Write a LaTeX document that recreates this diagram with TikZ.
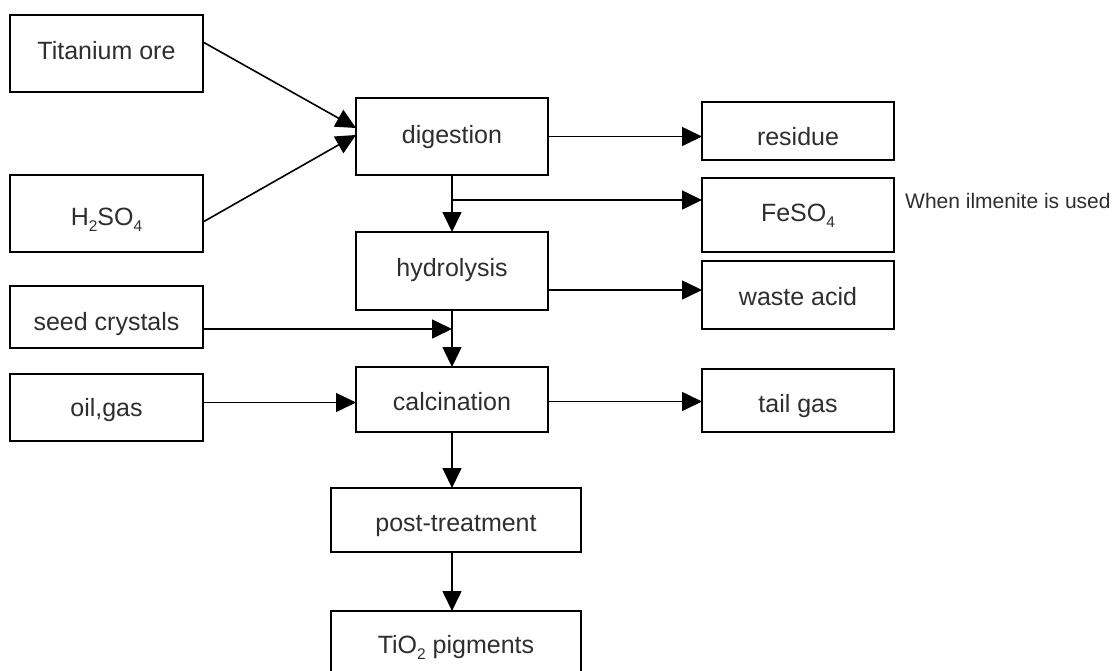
\documentclass[tikz,border=0pt]{standalone}
\usepackage{fontspec}
\setmainfont{Liberation Sans}
\usetikzlibrary{arrows.meta,calc}
\newcommand\lowsub[1]{\raisebox{-0.45ex}{\fontsize{15.5}{15.5}\selectfont #1}}
\newcommand\bl[2]{\raisebox{-#1pt}[0pt][0pt]{#2}}
\begin{document}
\begin{tikzpicture}[x=1pt,y=-1pt,
  box/.style={draw, line width=1.8pt, inner sep=0pt, outer sep=0pt, text=black!82, font=\fontsize{25}{29}\selectfont},
  wbox/.style={box, minimum width=193pt},
  arr/.style={line width=1.6pt, -{Triangle[length=20pt,width=19pt]}},
  note/.style={text=black!82, font=\fontsize{21}{24}\selectfont, inner sep=0pt, anchor=base west}]
\useasboundingbox (0,0) rectangle (1114,670);
% left column
\node[wbox, minimum height=77pt] (ti) at (106.5,53.5) {\bl{5.5}{Titanium ore}};
\node[wbox, minimum height=77pt] (hs) at (106.5,213.5) {\bl{12}{H\lowsub{2}SO\lowsub{4}}};
\node[wbox, minimum height=62pt] (seed) at (106.5,317) {\bl{13}{seed crystals}};
\node[wbox, minimum height=67pt] (oil) at (106.5,407.5) {\bl{9}{oil,gas}};
% middle column
\node[box, minimum width=192pt, minimum height=77pt] (dig) at (452,136.5) {\bl{7}{digestion}};
\node[box, minimum width=192pt, minimum height=78pt] (hy) at (452,271) {\bl{5.7}{hydrolysis}};
\node[box, minimum width=192pt, minimum height=65pt] (cal) at (452,399.5) {\bl{11}{calcination}};
\node[box, minimum width=250pt, minimum height=64pt] (po) at (456,520) {\bl{11.7}{post-treatment}};
\node[box, minimum width=250pt, minimum height=69pt] (tio) at (456,645.5) {\bl{7.8}{TiO\lowsub{2} pigments}};
% right column
\node[box, minimum width=192pt, minimum height=58pt] (re) at (798,131) {\bl{14}{residue}};
\node[box, minimum width=192pt, minimum height=74pt] (fe) at (798,215) {\bl{6.7}{FeSO\lowsub{4}}};
\node[box, minimum width=192pt, minimum height=68pt] (wa) at (798,295) {\bl{10}{waste acid}};
\node[box, minimum width=192pt, minimum height=63pt] (tg) at (798,400.5) {\bl{12}{tail gas}};
\node[note] (nt) at (905,208.3) {When ilmenite is used};
% connectors
\draw[arr] ([yshift=11.5pt]ti.east) -- ([yshift=8.5pt]dig.west);
\draw[arr] ([yshift=-8.5pt]hs.east) -- ([yshift=1.5pt]dig.west);
\draw[arr] (dig.east) -- (dig.east -| re.west);
\draw[arr] (dig.south) -- (hy.north);
\coordinate (feIn) at ([yshift=15pt]fe.west);
\draw[arr] (dig.south |- feIn) -- (feIn);
\coordinate (waIn) at ([yshift=5pt]wa.west);
\draw[arr] (hy.east |- waIn) -- (waIn);
\coordinate (seedOut) at ([yshift=-12pt]seed.east);
\draw[arr] (seedOut) -- (seedOut -| hy.south);
\draw[arr] (hy.south) -- (cal.north);
\coordinate (calIn) at ([yshift=-3pt]cal.west);
\draw[arr] (calIn -| oil.east) -- (calIn);
\coordinate (calOut) at ([yshift=-2pt]cal.east);
\draw[arr] (calOut) -- (calOut -| tg.west);
\draw[arr] (cal.south) -- (cal.south |- po.north);
\draw[arr] (cal.south |- po.south) -- (cal.south |- tio.north);
\end{tikzpicture}
\end{document}
